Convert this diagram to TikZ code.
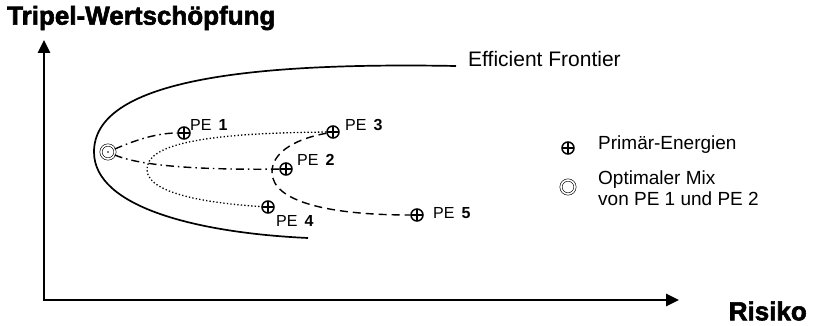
\documentclass[tikz,border=0pt]{standalone}
\usepackage{fontspec}
\setmainfont{Liberation Sans}
\newfontfamily\heavyfont[FakeBold=2.2]{Liberation Sans Bold}
\usetikzlibrary{arrows.meta}

\tikzset{
  x=1pt, y=-1pt,
  axis/.style={line width=2.6pt, -{Triangle[length=13pt,width=12pt]}},
  frontier/.style={line width=1.7pt},
  pe/.style={circle, draw, line width=1.5pt, minimum size=12pt, inner sep=0pt,
    path picture={\draw[line width=1.5pt]
      (path picture bounding box.north) -- (path picture bounding box.south)
      (path picture bounding box.west) -- (path picture bounding box.east);}},
  mix/.style={circle, draw, line width=0.6pt, minimum size=14pt, inner sep=0pt,
    double, double distance=1.6pt},
  pelabel/.style={font=\fontsize{16}{18}\selectfont, inner sep=0pt},
  dashdot/.style={line width=1.4pt, dash pattern=on 8pt off 4pt on 1.5pt off 4pt},
  dashedline/.style={line width=1.4pt, dash pattern=on 8pt off 5pt},
  dottedline/.style={line width=1.3pt, dash pattern=on 1.3pt off 2.2pt},
  legendtext/.style={font=\fontsize{19}{21}\selectfont, inner sep=0pt, anchor=west, align=left},
  fronttext/.style={font=\fontsize{21}{24}\selectfont, inner sep=0pt, anchor=west},
  bigbold/.style={font=\fontsize{26}{28}\selectfont\heavyfont, inner sep=0pt}
}

\begin{document}
\begin{tikzpicture}
  \useasboundingbox (0,0) rectangle (814,326);

  % titles of the axes
  \node[bigbold, anchor=west] (title) at (7,18) {Tripel-Wertschöpfung};
  \node[bigbold, anchor=east] (risk) at (807,311) {Risiko};

  % axes
  \coordinate (origin) at (44,300);
  \coordinate (ytip) at (44,40);
  \coordinate (xtip) at (679,300);
  \draw[axis] (44,301.3) -- (ytip);
  \draw[axis] (42.7,300) -- (xtip);

  % efficient frontier
  \coordinate (ftop) at (456,66);
  \coordinate (fvertex) at (94,152);
  \coordinate (fbottom) at (308,238);
  \draw[frontier] (ftop) .. controls (240,62) and (94,82) .. (fvertex)
                         .. controls (94,208) and (200,233) .. (fbottom);
  \node[fronttext] (frontlabel) at (468,59) {Efficient Frontier};

  % portfolio points
  \node[mix] (m) at (108,152) {};
  \fill (m.center) circle (0.9pt);
  \node[pe] (p1) at (184,133) {};
  \node[pe] (p2) at (286,169) {};
  \node[pe] (p3) at (333,132) {};
  \node[pe] (p4) at (268,207) {};
  \node[pe] (p5) at (417,215) {};

  \node[pelabel, anchor=west] (l1) at (190,125) {PE\,\ \textbf{1}};
  \node[pelabel, anchor=west] (l2) at (297,160) {PE\,\ \textbf{2}};
  \node[pelabel, anchor=west] (l3) at (345,125) {PE\,\ \textbf{3}};
  \node[pelabel, anchor=west] (l4) at (276,221) {PE\,\ \textbf{4}};
  \node[pelabel, anchor=west] (l5) at (433,213) {PE\,\ \textbf{5}};

  % mixes
  \draw[dashdot] (m) .. controls (140,138) and (160,133) .. (p1);
  \draw[dashdot] (m) .. controls (140,166) and (200,170) .. (p2);
  \draw[dottedline] (p3) .. controls (200,133) and (146,145) .. (147,170)
                         .. controls (148,196) and (220,204) .. (p4);
  \draw[dashedline] (p3) .. controls (290,140) and (272,155) .. (272,172)
                         .. controls (272,202) and (330,215) .. (p5);

  % legend
  \node[pe] (legpe) at (568,148) {};
  \node[legendtext] (legpetext) at (598,145) {Primär-Energien};
  \node[mix] (legmix) at (568,187) {};
  \node[legendtext] (legmixtext) at (598,188) {Optimaler Mix\\von PE 1 und PE 2};
\end{tikzpicture}
\end{document}
